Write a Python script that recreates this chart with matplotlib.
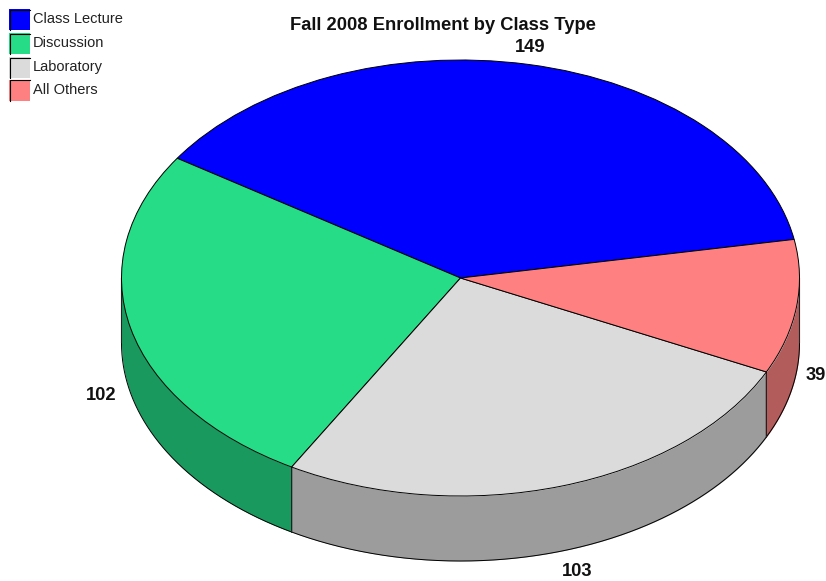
import numpy as np
import matplotlib
matplotlib.use("Agg")
import matplotlib.pyplot as plt
from matplotlib.patches import Rectangle

# Datos del gráfico
categorias = ["Class Lecture", "Discussion", "Laboratory", "All Others"]
valores = [149, 102, 103, 39]
colores = ["#0000ff", "#26dc87", "#dbdbdb", "#ff8080"]
colores_lado = ["#00009c", "#1a995e", "#9c9c9c", "#b35c5c"]

plt.rcParams["font.family"] = ["Liberation Sans", "DejaVu Sans"]

W, H = 826, 581
cx, cy = 460.5, 278   # centro de la elipse en pixeles
rx, ry = 339, 218
prof = 65 / ry        # altura del cilindro en unidades del radio
inicio = 10.2

fig = plt.figure(figsize=(W / 100, H / 100), dpi=100)
ax = fig.add_axes([0, 0, 1, 1])

# Pared lateral: solo la parte inferior (180 a 360 grados) es visible
angs = inicio + np.concatenate([[0], np.cumsum(valores)]) / sum(valores) * 360
for i in range(len(valores)):
    desde = max(angs[i], 180)
    hasta = min(angs[i + 1], 360)
    if desde >= hasta:
        continue
    t = np.radians(np.linspace(desde, hasta, 400))
    x = np.cos(t)
    y = np.sin(t)
    ax.fill_between(x, y, y - prof, color=colores_lado[i], lw=0, zorder=1)
    ax.plot(x, y - prof, color="k", lw=0.7, zorder=2, solid_capstyle="round")
    for k in [0, -1]:
        ax.plot([x[k], x[k]], [y[k], y[k] - prof], color="#222222", lw=0.8, zorder=2,
                solid_capstyle="round", snap=False)

# Tapa superior
ax.pie(valores, colors=colores, startangle=inicio, radius=1, center=(0, 0),
       wedgeprops=dict(edgecolor="k", linewidth=0.7, zorder=3), frame=True)

ax.set_aspect("auto")
ax.set_xlim(-cx / rx, (W - cx) / rx)
ax.set_ylim((cy - H) / ry, cy / ry)
ax.axis("off")

# Título y etiquetas de valores
fig.text(442.5 / W, 1 - 25.5 / H, "Fall 2008 Enrollment by Class Type", fontsize=13.2,
         fontweight="bold", ha="center", va="center", color="#111111")
pos_etiquetas = [(530, 47), (101, 396), (577.5, 572), (815.5, 376)]
for v, (px, py) in zip(valores, pos_etiquetas):
    fig.text(px / W, 1 - py / H, str(v), fontsize=13.2, fontweight="bold",
             ha="center", va="center", color="#111111")

# Leyenda hecha a mano, con borde negro arriba e izquierda
ys_leyenda = [9, 33, 57, 80]
for nombre, color, y0 in zip(categorias, colores, ys_leyenda):
    fig.add_artist(Rectangle((9 / W, 1 - (y0 + 21) / H), 21 / W, 21 / H, facecolor=color,
                             edgecolor="none", transform=fig.transFigure))
    fig.add_artist(plt.Line2D([9.5 / W, 9.5 / W, 30 / W],
                              [1 - (y0 + 21) / H, 1 - (y0 + 0.5) / H, 1 - (y0 + 0.5) / H],
                              color="k", lw=0.8, transform=fig.transFigure))
    fig.text(33 / W, 1 - (y0 + 10) / H, nombre, fontsize=10.5, ha="left", va="center",
             color="#222222")

fig.savefig("out.png", dpi=100)
